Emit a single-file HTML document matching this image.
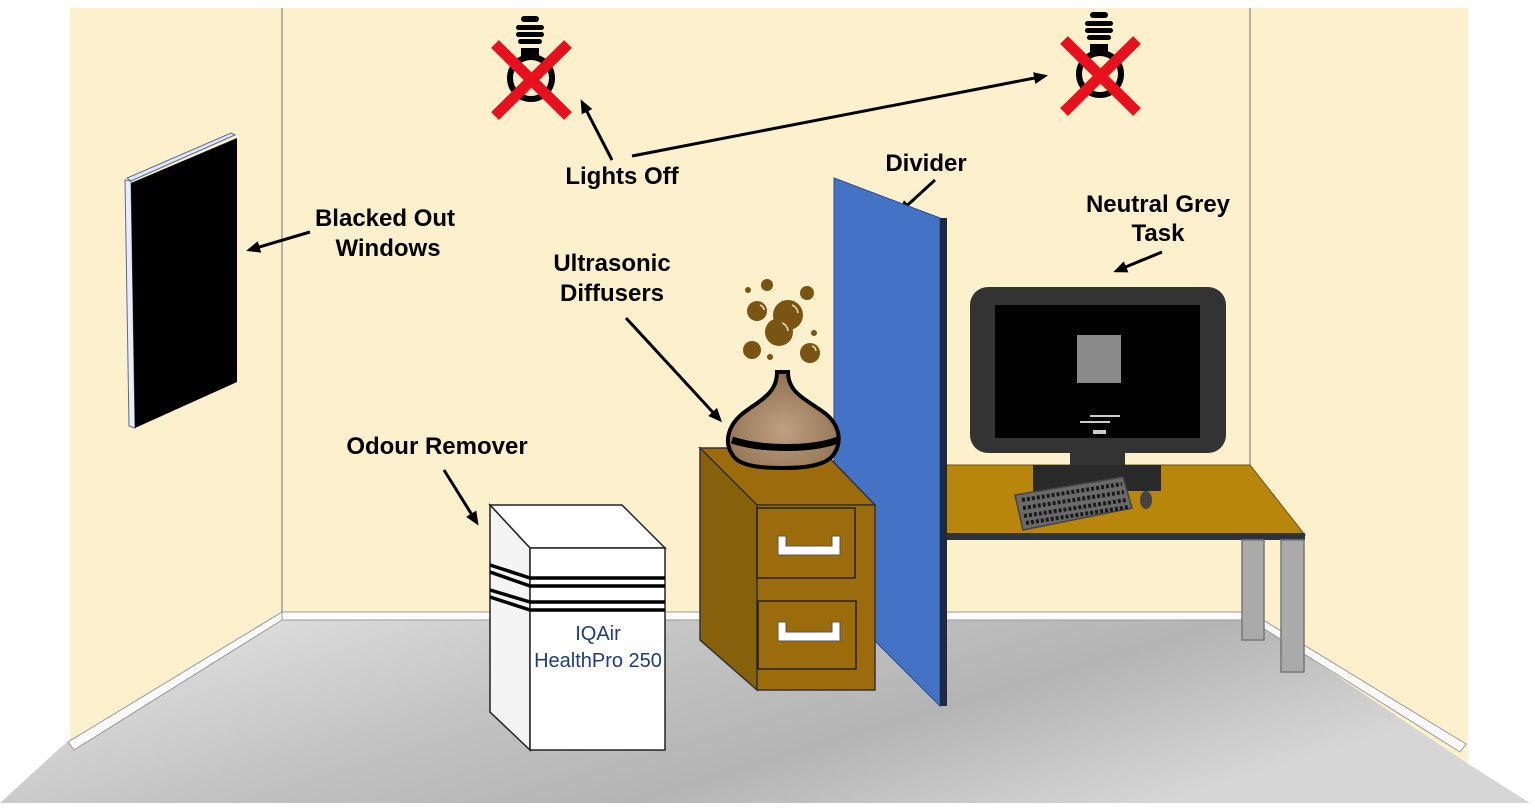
<!DOCTYPE html>
<html><head><meta charset="utf-8"><style>
html,body{margin:0;padding:0;background:#fff;}
svg{display:block;}
text{font-family:"Liberation Sans",Arial,sans-serif;}
.lb{font-weight:bold;font-size:24px;fill:#000;text-anchor:middle;}
</style></head><body>
<svg width="1535" height="810" viewBox="0 0 1535 810" xmlns="http://www.w3.org/2000/svg">
<defs>
<linearGradient id="fl" x1="0" y1="0" x2="1" y2="0.4">
<stop offset="0" stop-color="#e8e8e8"/><stop offset="0.45" stop-color="#c2c2c2"/><stop offset="0.7" stop-color="#b4b4b4"/><stop offset="1" stop-color="#d6d6d6"/>
</linearGradient>
<marker id="ar" markerWidth="14" markerHeight="12" refX="11" refY="6" orient="auto" markerUnits="userSpaceOnUse">
<path d="M0,0 L14,6 L0,12 z" fill="#000"/></marker>
<radialGradient id="wd" cx="0.5" cy="0.6" r="0.6"><stop offset="0" stop-color="#bfa080"/><stop offset="1" stop-color="#8f7050"/></radialGradient>
</defs>
<!-- walls -->
<rect x="70" y="8" width="1398" height="760" fill="#fdf0cc"/>
<line x1="282" y1="8" x2="282" y2="612" stroke="#888" stroke-width="1.2"/>
<line x1="1250" y1="8" x2="1250" y2="612" stroke="#888" stroke-width="1.2"/>
<!-- floor -->
<polygon points="282,618 1250,618 1470,765 1530,803 0,803 60,748 70,740" fill="url(#fl)"/>
<polygon points="282,612 1250,612 1250,620 282,620" fill="#fafafa" stroke="#999" stroke-width="1"/>
<polygon points="282,612 282,620 74,750 68,742" fill="#fafafa" stroke="#999" stroke-width="1"/>
<polygon points="1250,612 1250,620 1460,752 1466,744" fill="#fafafa" stroke="#999" stroke-width="1"/>
<!-- window -->
<polygon points="127,178 231,133 235,135 131,181" fill="#dfe6f2" stroke="#5a6a90" stroke-width="1"/>
<polygon points="125,180 131,181 135,428 129,426" fill="#e8eef8" stroke="#5a6a90" stroke-width="1"/>
<polygon points="131,183 237,138 237,382 135,428" fill="#000"/>
<!-- bulbs -->
<g id="b1">
<path d="M523,21 q7,-8 14,0 z" fill="#000"/>
<rect x="521" y="16" width="18" height="6" rx="3" fill="#000"/>
<rect x="516" y="25" width="28" height="5" rx="2.5" fill="#000"/>
<rect x="516" y="32" width="28" height="5" rx="2.5" fill="#000"/>
<rect x="518" y="39" width="24" height="5" rx="2.5" fill="#000"/>
<path d="M521,48 h18 v8 h-18 z" fill="#000"/>
<circle cx="531" cy="78" r="21" fill="none" stroke="#000" stroke-width="6"/>
<line x1="495" y1="44" x2="568" y2="116" stroke="#e8101c" stroke-width="11"/>
<line x1="568" y1="44" x2="495" y2="116" stroke="#e8101c" stroke-width="11"/>
</g>
<use href="#b1" x="569" y="-4"/>
<!-- labels -->
<text class="lb" x="622" y="184">Lights Off</text>
<line x1="612" y1="160" x2="582" y2="102" stroke="#000" stroke-width="3" marker-end="url(#ar)"/>
<line x1="632" y1="156" x2="1045" y2="76" stroke="#000" stroke-width="3" marker-end="url(#ar)"/>
<text class="lb" x="385" y="226">Blacked Out</text>
<text class="lb" x="388" y="256">Windows</text>
<line x1="310" y1="232" x2="249" y2="250" stroke="#000" stroke-width="3" marker-end="url(#ar)"/>
<text class="lb" x="926" y="171">Divider</text>
<line x1="935" y1="180" x2="900" y2="212" stroke="#000" stroke-width="3" marker-end="url(#ar)"/>
<text class="lb" x="1158" y="212">Neutral Grey</text>
<text class="lb" x="1158" y="241">Task</text>
<line x1="1162" y1="252" x2="1116" y2="271" stroke="#000" stroke-width="3" marker-end="url(#ar)"/>
<text class="lb" x="612" y="271">Ultrasonic</text>
<text class="lb" x="612" y="301">Diffusers</text>
<line x1="626" y1="318" x2="720" y2="420" stroke="#000" stroke-width="3" marker-end="url(#ar)"/>
<text class="lb" x="437" y="454">Odour Remover</text>
<line x1="444" y1="470" x2="477" y2="523" stroke="#000" stroke-width="3" marker-end="url(#ar)"/>
<!-- table -->
<polygon points="945,465 1250,465 1305,535 945,535" fill="#b8860b" stroke="#6b5410" stroke-width="1"/>
<rect x="945" y="533" width="360" height="7" fill="#2b3340"/>
<rect x="1242" y="540" width="22" height="100" fill="#aaa" stroke="#777" stroke-width="1.5"/>
<rect x="1281" y="540" width="23" height="132" fill="#aaa" stroke="#777" stroke-width="1.5"/>
<!-- monitor -->
<rect x="970" y="287" width="256" height="166" rx="18" fill="#333"/>
<rect x="995" y="305" width="205" height="133" fill="#020202"/>
<rect x="1077" y="335" width="44" height="48" fill="#8a8a8a"/>
<rect x="1090" y="415" width="30" height="2" fill="#ccc"/>
<rect x="1080" y="421" width="30" height="2" fill="#ccc"/>
<rect x="1093" y="430" width="13" height="4" fill="#ccc"/>
<rect x="1070" y="450" width="55" height="25" fill="#333"/>
<rect x="1033" y="465" width="128" height="26" fill="#2a2a2a"/>
<polygon points="1015,495 1123,477 1132,508 1023,530" fill="#6a6a6a" stroke="#444" stroke-width="1.5"/>
<g stroke="#1a1a1a" stroke-width="4" stroke-dasharray="3 2">
<line x1="1022" y1="500" x2="1122" y2="484"/><line x1="1023" y1="508" x2="1124" y2="492"/><line x1="1024" y1="516" x2="1126" y2="500"/><line x1="1026" y1="523" x2="1128" y2="507"/>
</g>
<ellipse cx="1146" cy="500" rx="6" ry="9" fill="#444"/>
<!-- divider -->
<polygon points="834,178 940,218 940,706 834,600" fill="#4472c4" stroke="#2d4e8a" stroke-width="1"/>
<rect x="940" y="218" width="7" height="488" fill="#1e2a44"/>
<!-- cabinet -->
<polygon points="700,448 820,448 875,505 757,505" fill="#9c6c0c" stroke="#333" stroke-width="1.5"/>
<polygon points="700,448 757,505 757,690 700,640" fill="#87600c" stroke="#333" stroke-width="1.5"/>
<rect x="757" y="505" width="118" height="185" fill="#9c6c0c" stroke="#333" stroke-width="1.5"/>
<rect x="757" y="508" width="98" height="70" fill="#9c6c0c" stroke="#222" stroke-width="1.5"/>
<rect x="758" y="601" width="98" height="68" fill="#9c6c0c" stroke="#222" stroke-width="1.5"/>
<path d="M778,536 h8 v10 h46 v-10 h8 v19 h-62 z" fill="#fff" stroke="#555"/>
<path d="M778,622 h8 v10 h46 v-10 h8 v19 h-62 z" fill="#fff" stroke="#555"/>
<!-- diffuser -->
<path d="M777,372 h11 c0,22 20,28 38,42 c14,12 16,28 8,40 c-8,12 -30,14 -52,14 c-22,0 -44,-2 -50,-14 c-8,-12 -4,-28 10,-40 c18,-14 35,-20 35,-42 z" fill="url(#wd)" stroke="#000" stroke-width="4"/>
<path d="M732,440 c30,10 80,10 106,0" stroke="#000" stroke-width="7" fill="none"/>
<g fill="#7a5412">
<circle cx="767" cy="285" r="6"/><circle cx="748" cy="290" r="3"/><circle cx="807" cy="293" r="7"/>
<circle cx="757" cy="311" r="10"/><circle cx="788" cy="315" r="15"/><circle cx="779" cy="332" r="14"/>
<circle cx="814" cy="333" r="3"/><circle cx="752" cy="350" r="9"/><circle cx="770" cy="357" r="3"/><circle cx="810" cy="353" r="10"/>
</g>
<g fill="none" stroke="#f3e0b0" stroke-width="1.5">
<path d="M760,305 a6,6 0 0 1 4,5"/><path d="M792,305 a10,10 0 0 1 6,8"/><path d="M782,323 a9,9 0 0 1 6,8"/><path d="M812,346 a6,6 0 0 1 4,5"/>
</g>
<!-- purifier -->
<polygon points="490,505 622,505 665,548 530,548" fill="#fff" stroke="#222" stroke-width="1.5"/>
<polygon points="490,505 530,548 530,750 490,712" fill="#f4f4f4" stroke="#222" stroke-width="1.5"/>
<rect x="530" y="548" width="135" height="202" fill="#fff" stroke="#222" stroke-width="1.5"/>
<g stroke="#000" stroke-width="3.5">
<line x1="490" y1="565" x2="530" y2="578"/><line x1="530" y1="578" x2="665" y2="578"/>
<line x1="490" y1="572" x2="530" y2="586"/><line x1="530" y1="586" x2="665" y2="586"/>
<line x1="490" y1="590" x2="530" y2="602"/><line x1="530" y1="602" x2="665" y2="602"/>
<line x1="490" y1="597" x2="530" y2="610"/><line x1="530" y1="610" x2="665" y2="610"/>
</g>
<text x="598" y="640" font-size="20" fill="#1f3d7a" text-anchor="middle">IQAir</text>
<text x="598" y="667" font-size="20" fill="#1f3d7a" text-anchor="middle">HealthPro 250</text>
</svg>
</body></html>
